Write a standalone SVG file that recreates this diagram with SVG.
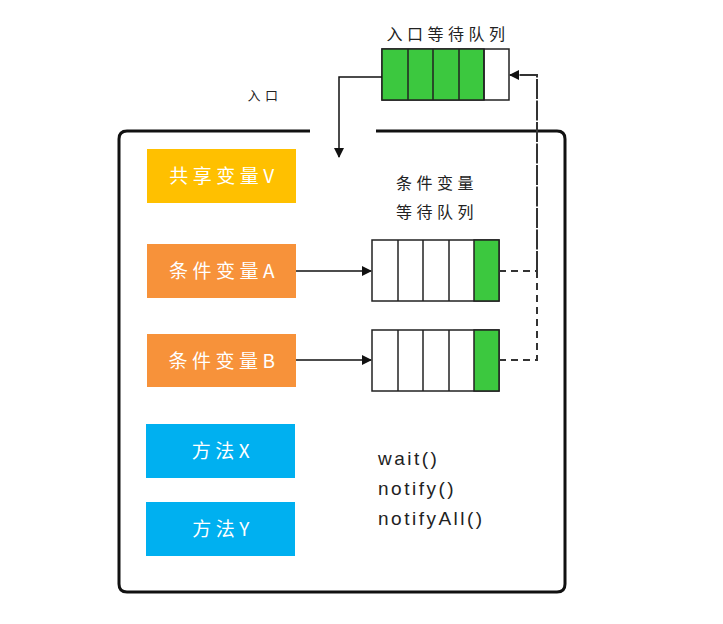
<svg xmlns="http://www.w3.org/2000/svg" width="723" height="624" viewBox="0 0 723 624">
<defs>
<marker id="ah" viewBox="0 0 10 10" refX="9" refY="5" markerWidth="10" markerHeight="10" markerUnits="userSpaceOnUse" orient="auto">
<path d="M0,0 L10,5 L0,10 z" fill="#111"/>
</marker>
<style>
.cjk{font-family:"Noto Sans CJK SC","Liberation Sans",sans-serif;}
.lbl{fill:#fff;font-size:19px;letter-spacing:4.5px;text-anchor:middle;}
.blk{fill:#222;font-size:16px;letter-spacing:4.5px;text-anchor:middle;}
.cell{fill:#fff;stroke:#222;stroke-width:1.5;}
.g{fill:#3CC83F;}
.dash{fill:none;stroke:#333;stroke-width:2;stroke-dasharray:7 5;}
.solid{fill:none;stroke:#111;stroke-width:1.5;}
.code{font-family:"Liberation Sans",sans-serif;font-size:19px;letter-spacing:2.5px;fill:#222;}
</style>
</defs>
<rect width="723" height="624" fill="#fff"/>

<g id="monitor">
<path d="M310,131 H127 Q119,131 119,139 V584 Q119,592 127,592 H557 Q565,592 565,584 V139 Q565,131 557,131 H376" fill="none" stroke="#111" stroke-width="3"/>
<text class="cjk blk" x="265" y="100" style="font-size:13px">入口</text>
</g>

<g id="entry-queue">
<text class="cjk blk" x="448" y="40">入口等待队列</text>
<rect x="382" y="49" width="127" height="51" class="cell"/>
<rect x="382" y="49" width="102" height="51" class="g" stroke="#222" stroke-width="1.5"/>
<line x1="408" y1="49" x2="408" y2="100" stroke="#222" stroke-width="1.5"/>
<line x1="433" y1="49" x2="433" y2="100" stroke="#222" stroke-width="1.5"/>
<line x1="459" y1="49" x2="459" y2="100" stroke="#222" stroke-width="1.5"/>
<line x1="484" y1="49" x2="484" y2="100" stroke="#222" stroke-width="1.5"/>
</g>

<g id="shared-v">
<rect x="147" y="149" width="149" height="54" fill="#FFC000"/>
<text class="cjk lbl" x="224" y="183">共享变量V</text>
</g>

<g id="cond-a">
<rect x="147" y="244" width="149" height="54" fill="#F7923A"/>
<text class="cjk lbl" x="224" y="278">条件变量A</text>
</g>

<g id="cond-b">
<rect x="147" y="334" width="149" height="53" fill="#F7923A"/>
<text class="cjk lbl" x="224" y="368">条件变量B</text>
</g>

<g id="method-x">
<rect x="146" y="424" width="149" height="54" fill="#00B0F0"/>
<text class="cjk lbl" x="223" y="458">方法X</text>
</g>

<g id="method-y">
<rect x="146" y="502" width="149" height="54" fill="#00B0F0"/>
<text class="cjk lbl" x="223" y="536">方法Y</text>
</g>

<g id="cond-queue-label">
<text class="cjk blk" x="437" y="189">条件变量</text>
<text class="cjk blk" x="437" y="218">等待队列</text>
</g>

<g id="queue-a">
<rect x="372" y="240" width="127" height="61" class="cell"/>
<rect x="474" y="240" width="25" height="61" class="g" stroke="#222" stroke-width="1.5"/>
<line x1="398" y1="240" x2="398" y2="301" stroke="#222" stroke-width="1.5"/>
<line x1="423" y1="240" x2="423" y2="301" stroke="#222" stroke-width="1.5"/>
<line x1="449" y1="240" x2="449" y2="301" stroke="#222" stroke-width="1.5"/>
</g>

<g id="queue-b">
<rect x="372" y="330" width="127" height="61" class="cell"/>
<rect x="474" y="330" width="25" height="61" class="g" stroke="#222" stroke-width="1.5"/>
<line x1="398" y1="330" x2="398" y2="391" stroke="#222" stroke-width="1.5"/>
<line x1="423" y1="330" x2="423" y2="391" stroke="#222" stroke-width="1.5"/>
<line x1="449" y1="330" x2="449" y2="391" stroke="#222" stroke-width="1.5"/>
</g>

<g id="methods-text">
<text class="code" x="378" y="465">wait()</text>
<text class="code" x="378" y="495">notify()</text>
<text class="code" x="378" y="525">notifyAll()</text>
</g>

<g id="connectors">
<path class="solid" d="M382,77 H339 V157" marker-end="url(#ah)"/>
<path class="solid" d="M296,271 H371" marker-end="url(#ah)"/>
<path class="solid" d="M296,360 H371" marker-end="url(#ah)"/>
<path class="dash" d="M499,360 H537 V271"/>
<path class="dash" d="M499,271 H537"/>
<path class="dash" d="M537,271 V75 H510" style="stroke-dasharray:20 1.5" marker-end="url(#ah)"/>
</g>
</svg>
